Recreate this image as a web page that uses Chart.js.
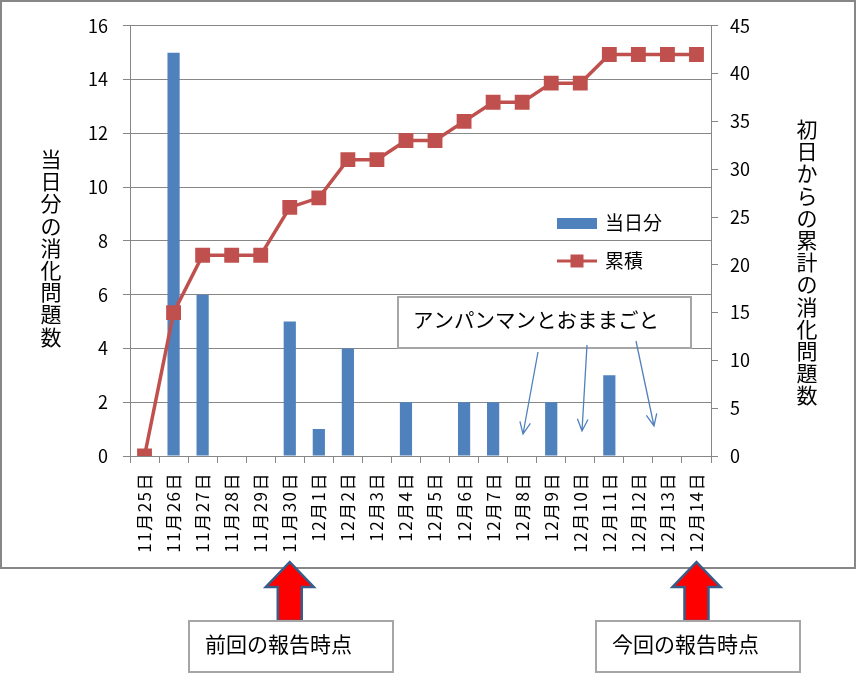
<!DOCTYPE html>
<html lang="ja">
<head>
<meta charset="utf-8">
<title>消化問題数</title>
<script src="https://cdn.jsdelivr.net/npm/chart.js@4.4.1/dist/chart.umd.min.js"></script>
<style>
  html, body { margin: 0; padding: 0; background: #fff; }
  #wrap { position: relative; width: 858px; height: 674px; }
</style>
</head>
<body>
<div id="wrap"><canvas id="grafica" width="858" height="674"></canvas></div>
<script>
// datos
const days = ["11月25日", "11月26日", "11月27日", "11月28日", "11月29日", "11月30日",
  "12月1日", "12月2日", "12月3日", "12月4日", "12月5日", "12月6日", "12月7日",
  "12月8日", "12月9日", "12月10日", "12月11日", "12月12日", "12月13日", "12月14日"];
const dailyCount = [0, 15, 6, 0, 0, 5, 1, 4, 0, 2, 0, 2, 2, 0, 2, 0, 3, 0, 0, 0];
const cumulative = [0, 15, 21, 21, 21, 26, 27, 31, 31, 33, 33, 35, 37, 37, 39, 39, 42, 42, 42, 42];
const leftTicks = { min: 0, max: 16, step: 2 };
const rightTicks = { min: 0, max: 45, step: 5 };

const leftTitle = "当日分の消化問題数";
const rightTitle = "初日からの累計の消化問題数";
const noteText = "アンパンマンとおままごと";
const reportLabels = ["前回の報告時点", "今回の報告時点"];
const reportIndex = [5, 19];   // 11月30日, 12月14日

const FONT = '"Noto Sans CJK JP", "Noto Sans", sans-serif';
const GRIS = "#878787";
const AZUL = "#4F81BD";
const ROJO = "#C0504D";

Chart.defaults.font.family = FONT;
Chart.defaults.color = "#000";

function verticalText(ctx, text, x, y0, pitch) {
  ctx.textAlign = "center";
  ctx.textBaseline = "middle";
  [...text].forEach((ch, i) => ctx.fillText(ch, x, y0 + i * pitch));
}

function openArrow(ctx, x1, y1, x2, y2) {
  const ang = Math.atan2(y2 - y1, x2 - x1);
  const len = 13, abre = 0.42;
  ctx.beginPath();
  ctx.moveTo(x1, y1);
  ctx.lineTo(x2, y2);
  ctx.moveTo(x2 - len * Math.cos(ang - abre), y2 - len * Math.sin(ang - abre));
  ctx.lineTo(x2, y2);
  ctx.lineTo(x2 - len * Math.cos(ang + abre), y2 - len * Math.sin(ang + abre));
  ctx.stroke();
}

function blockArrow(ctx, cx, tip, base) {
  ctx.beginPath();
  ctx.moveTo(cx, tip);
  ctx.lineTo(cx + 24, tip + 25);
  ctx.lineTo(cx + 12, tip + 25);
  ctx.lineTo(cx + 12, base);
  ctx.lineTo(cx - 12, base);
  ctx.lineTo(cx - 12, tip + 25);
  ctx.lineTo(cx - 24, tip + 25);
  ctx.closePath();
  ctx.fillStyle = "#FF0000";
  ctx.fill();
  ctx.strokeStyle = "#385D8A";
  ctx.lineWidth = 2.5;
  ctx.stroke();
}

// etiquetas del eje x un poco espaciadas, como en el original
const espaciado = {
  id: "espaciado",
  beforeDraw(chart) {
    const sc = chart.scales.x;
    if (sc._conEspacio) return;
    const orig = sc.drawLabels.bind(sc);
    sc.drawLabels = (area) => {
      chart.ctx.save();
      chart.ctx.letterSpacing = "1.5px";
      orig(area);
      chart.ctx.restore();
    };
    sc._conEspacio = true;
  }
};

const decoraciones = {
  id: "decoraciones",
  afterDraw(chart) {
    const ctx = chart.ctx;
    const x = chart.scales.x;
    ctx.save();

    // marco exterior
    ctx.strokeStyle = GRIS;
    ctx.lineWidth = 2;
    ctx.strokeRect(1, 1, 854, 567);

    // titulos verticales
    ctx.fillStyle = "#000";
    ctx.font = "21px " + FONT;
    verticalText(ctx, leftTitle, 51, 159, 22.2);
    verticalText(ctx, rightTitle, 807, 129, 22.2);

    // leyenda
    const ds = chart.data.datasets;
    ctx.fillStyle = ds[0].backgroundColor;
    ctx.fillRect(557, 218, 40, 11);
    ctx.strokeStyle = ds[1].borderColor;
    ctx.lineWidth = 3;
    ctx.beginPath();
    ctx.moveTo(557, 261);
    ctx.lineTo(597, 261);
    ctx.stroke();
    ctx.fillStyle = ds[1].borderColor;
    ctx.fillRect(570.5, 254.5, 13, 13);
    ctx.fillStyle = "#000";
    ctx.font = "19px " + FONT;
    ctx.textAlign = "left";
    ctx.textBaseline = "middle";
    ctx.fillText(ds[0].label, 605, 223);
    ctx.fillText(ds[1].label, 605, 261);

    // cuadro de nota
    ctx.fillStyle = "#fff";
    ctx.fillRect(398, 297, 293, 51);
    ctx.strokeStyle = "#A6A6A6";
    ctx.lineWidth = 2;
    ctx.strokeRect(398, 297, 293, 51);
    ctx.fillStyle = "#000";
    ctx.font = "20.5px " + FONT;
    ctx.fillText(noteText, 413, 320);

    ctx.strokeStyle = AZUL;
    ctx.lineWidth = 1.3;
    openArrow(ctx, 538, 352, 523, 434);
    openArrow(ctx, 587, 345, 582, 431);
    openArrow(ctx, 636, 341, 654, 426);

    // flechas de reporte
    const cajas = [[189, 205], [596, 612]];
    reportIndex.forEach((idx, i) => {
      const cx = x.getPixelForValue(idx);
      blockArrow(ctx, cx, 562, 621);
      const [bx, tx] = cajas[i];
      ctx.fillStyle = "#fff";
      ctx.fillRect(bx, 621, 204, 51);
      ctx.strokeStyle = "#A6A6A6";
      ctx.lineWidth = 2;
      ctx.strokeRect(bx, 621, 204, 51);
      ctx.fillStyle = "#000";
      ctx.font = "21px " + FONT;
      ctx.textAlign = "left";
      ctx.textBaseline = "middle";
      ctx.fillText(reportLabels[i], tx, 644);
    });

    ctx.restore();
  }
};

new Chart(document.getElementById("grafica"), {
  type: "bar",
  data: {
    labels: days,
    datasets: [
      {
        type: "bar",
        label: "当日分",
        data: dailyCount,
        yAxisID: "y",
        backgroundColor: AZUL,
        categoryPercentage: 1,
        barPercentage: 0.42,
        order: 1
      },
      {
        type: "line",
        label: "累積",
        data: cumulative,
        yAxisID: "y1",
        borderColor: ROJO,
        backgroundColor: ROJO,
        borderWidth: 3.5,
        tension: 0,
        pointStyle: "rect",
        pointRadius: 10.5,
        pointBorderWidth: 0,
        pointBackgroundColor: ROJO,
        order: 0
      }
    ]
  },
  options: {
    responsive: false,
    animation: false,
    layout: { padding: { top: 24, left: 0, right: 0, bottom: 0 } },
    plugins: {
      legend: { display: false },
      tooltip: { enabled: false },
      title: { display: false }
    },
    scales: {
      x: {
        offset: true,
        grid: { offset: true, drawOnChartArea: false, drawTicks: true, tickLength: 7, color: GRIS },
        border: { color: GRIS, width: 1 },
        ticks: { autoSkip: false, minRotation: 90, maxRotation: 90, padding: 9, font: { size: 17 } },
        afterFit: s => { s.height = 218; }
      },
      y: {
        position: "left",
        min: leftTicks.min,
        max: leftTicks.max,
        ticks: { stepSize: leftTicks.step, padding: 15, font: { size: 18 } },
        grid: { color: GRIS, tickLength: 7 },
        border: { color: GRIS, width: 1 },
        afterFit: s => { s.width = 130; }
      },
      y1: {
        position: "right",
        min: rightTicks.min,
        max: rightTicks.max,
        ticks: { stepSize: rightTicks.step, padding: 12, font: { size: 18 } },
        grid: { drawOnChartArea: false, color: GRIS, tickLength: 7 },
        border: { color: GRIS, width: 1 },
        afterFit: s => { s.width = 147; }
      }
    }
  },
  plugins: [espaciado, decoraciones]
});
</script>
</body>
</html>
